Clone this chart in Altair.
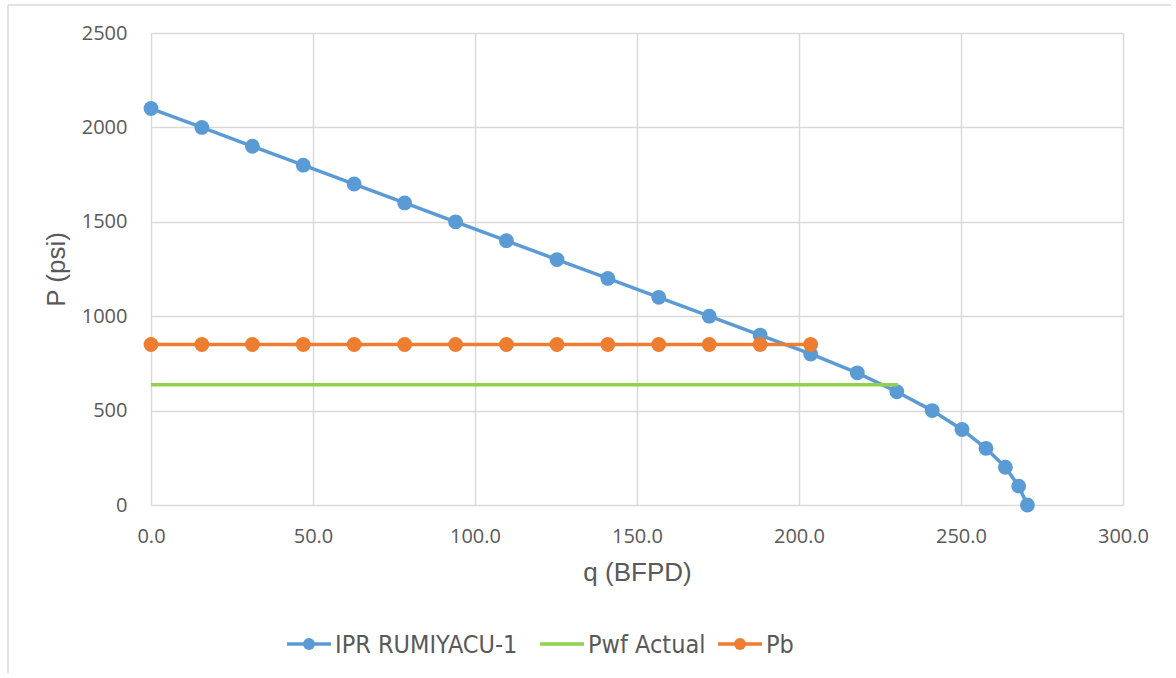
import altair as alt
import pandas as pd

# Inflow performance relationship for RUMIYACU-1
ipr_q = [0.0, 15.7, 31.3, 47.0, 62.7, 78.3, 94.0, 109.7, 125.3, 141.0, 156.7,
         172.3, 188.0, 203.6, 218.0, 230.2, 241.1, 250.3, 257.7, 263.7, 267.8, 270.5]
ipr_p = [2100, 2000, 1900, 1800, 1700, 1600, 1500, 1400, 1300, 1200, 1100,
         1000, 900, 800, 700, 600, 500, 400, 300, 200, 100, 0]

# Current flowing bottom-hole pressure
pwf_q = [0.0, 230.5]
pwf_p = [637, 637]

# Bubble point pressure
pb_q = [0.0, 15.7, 31.3, 47.0, 62.7, 78.3, 94.0, 109.7, 125.3, 141.0, 156.7,
        172.3, 188.0, 203.6]
pb_p = [850, 850, 850, 850, 850, 850, 850, 850, 850, 850, 850, 850, 850, 850]

series_names = ["IPR RUMIYACU-1", "Pwf Actual", "Pb"]
series_colors = ["#5B9BD5", "#92D050", "#ED7D31"]
series_markers = [True, False, True]

x_ticks = [0, 50, 100, 150, 200, 250, 300]
y_ticks = [0, 500, 1000, 1500, 2000, 2500]

TEXT = "#595959"
GRID = "#d9d9d9"

ipr = pd.DataFrame({"q": ipr_q, "P": ipr_p, "series": series_names[0]})
pwf = pd.DataFrame({"q": pwf_q, "P": pwf_p, "series": series_names[1]})
pb = pd.DataFrame({"q": pb_q, "P": pb_p, "series": series_names[2]})

x_enc = alt.X(
    "q:Q",
    scale=alt.Scale(domain=[0, 300], nice=False, zero=False),
    axis=alt.Axis(
        values=x_ticks, format=".1f", grid=True, gridColor=GRID, gridWidth=1.5,
        domain=False, ticks=False, labelFlush=False, labelFont="Open Sans",
        labelFontSize=20, labelColor=TEXT, labelPadding=21, title="q (BFPD)",
        titleFont="Liberation Sans", titleFontSize=26, titleFontWeight="normal",
        titleColor=TEXT, titlePadding=13,
    ),
)
y_enc = alt.Y(
    "P:Q",
    scale=alt.Scale(domain=[0, 2500], nice=False),
    axis=alt.Axis(
        values=y_ticks, format="d", grid=True, gridColor=GRID, gridWidth=1.5,
        domain=False, ticks=False, labelFlush=False, labelFont="Open Sans",
        labelFontSize=20, labelColor=TEXT, labelPadding=24, title="P (psi)",
        titleFont="Liberation Sans", titleFontSize=26, titleFontWeight="normal",
        titleColor=TEXT, titlePadding=12,
    ),
)

color_scale = alt.Scale(domain=series_names, range=series_colors)
no_legend = alt.Color("series:N", scale=color_scale, legend=None)

LINE_W = 3.5
DOT = 220

ipr_line = alt.Chart(ipr).mark_line(strokeWidth=LINE_W).encode(x=x_enc, y=y_enc, color=no_legend)
ipr_dots = alt.Chart(ipr).mark_point(filled=True, size=DOT, opacity=1).encode(x=x_enc, y=y_enc, color=no_legend)
pwf_line = alt.Chart(pwf).mark_line(strokeWidth=LINE_W).encode(x=x_enc, y=y_enc, color=no_legend)
pb_line = alt.Chart(pb).mark_line(strokeWidth=LINE_W).encode(x=x_enc, y=y_enc, color=no_legend)
pb_dots = alt.Chart(pb).mark_point(filled=True, size=DOT, opacity=1).encode(x=x_enc, y=y_enc, color=no_legend)

# Decoration layers (frame and legend) are placed in pixels relative to the plot area
deco = pd.DataFrame({"k": [0]})

frame_left = alt.Chart(deco).mark_rule(color=GRID, strokeWidth=1.5).encode(
    x=alt.value(-143), y=alt.value(-28), y2=alt.value(640))
frame_top = alt.Chart(deco).mark_rule(color=GRID, strokeWidth=1.5).encode(
    x=alt.value(-143), x2=alt.value(1020), y=alt.value(-28))

# Legend row below the x-axis title: line sample, optional marker, label
LEGEND_Y = 611
LEGEND_X = [136, 389, 567]
SAMPLE_W = 44
legend_layers = []
for name, col, has_marker, x0 in zip(series_names, series_colors, series_markers, LEGEND_X):
    legend_layers.append(
        alt.Chart(deco).mark_rule(color=col, strokeWidth=LINE_W).encode(
            x=alt.value(x0), x2=alt.value(x0 + SAMPLE_W), y=alt.value(LEGEND_Y))
    )
    if has_marker:
        legend_layers.append(
            alt.Chart(deco).mark_point(filled=True, size=140, color=col, opacity=1).encode(
                x=alt.value(x0 + SAMPLE_W / 2), y=alt.value(LEGEND_Y))
        )
    legend_layers.append(
        alt.Chart(deco).mark_text(
            text=name, align="left", baseline="middle", fontSize=25, color=TEXT,
            font="Liberation Sans Narrow, DejaVu Sans Condensed, Liberation Sans",
        ).encode(x=alt.value(x0 + SAMPLE_W + 4), y=alt.value(LEGEND_Y + 1))
    )

chart = alt.layer(
    frame_left, frame_top, ipr_line, ipr_dots, pwf_line, pb_line, pb_dots, *legend_layers
).properties(
    width=972, height=472,
    padding={"left": 7, "top": 4, "right": 0, "bottom": 0},
    background="white",
).configure_view(stroke=None)

chart.save("out.html", embed_options={"renderer": "svg", "actions": False})
